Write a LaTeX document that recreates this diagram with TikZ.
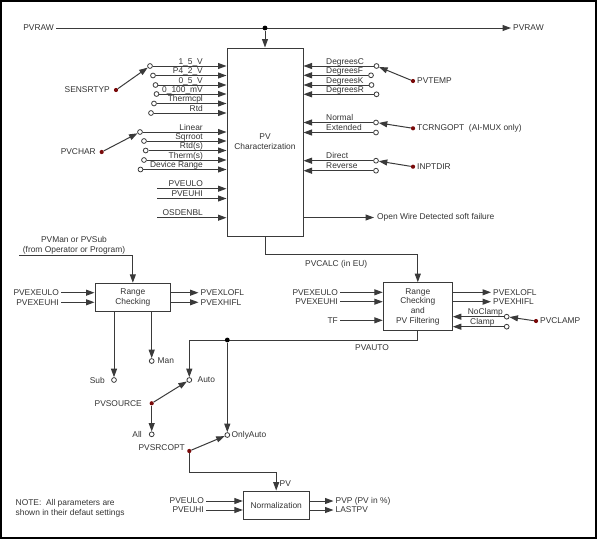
\documentclass[tikz,border=0pt]{standalone}
\usepackage{fontspec}
\setmainfont{Liberation Sans}
\usetikzlibrary{arrows.meta,calc}
\definecolor{lc}{HTML}{3A3A3A}
\definecolor{tc}{HTML}{333333}
\definecolor{dr}{HTML}{7A0A0A}
\begin{document}
\begin{tikzpicture}[x=1pt,y=-1pt,
 wire/.style={draw=lc,line width=1pt},
 arr/.style={wire,-{Triangle[length=8.5pt,width=6pt]}},
 sw/.style={circle,draw=lc,line width=0.8pt,fill=white,inner sep=0pt,minimum size=4.8pt},
 sd/.style={circle,fill=dr,inner sep=0pt,minimum size=4.2pt},
 jd/.style={circle,fill=black,inner sep=0pt,minimum size=4.8pt},
 lbl/.style={font=\fontsize{8.4}{9.8}\selectfont,text=tc,inner sep=1pt},
 box/.style={draw=lc,line width=1pt,fill=white,align=center,font=\fontsize{8.4}{9.8}\selectfont,text=tc,inner sep=0pt}]
\useasboundingbox (0,0) rectangle (600,541);
\draw[black,line width=1.2pt] (1,1) rectangle (596,538);

% PV characterization box
\node[box,minimum width=76pt,minimum height=188pt] (pvc) at (265,142) {PV\\Characterization};

% PVRAW
\node[lbl,anchor=east,inner sep=2pt] (rawL) at (56,28) {PVRAW};
\node[lbl,anchor=west,inner sep=2pt] (rawR) at (511,28) {PVRAW};
\draw[arr] (rawL) -- (rawR);
\node[jd] (j1) at (265,28) {};
\draw[arr] (j1) -- (pvc.north);

% SENSRTYP switch
\foreach \nm/\cx/\yy/\lab in {a1/150/66/1\_5\_V, a2/153/75.5/P4\_2\_V, a3/155.5/85/0\_5\_V, a4/156.5/94/0\_100\_mV, a5/154/103.5/Thermcpl, a6/151/113/Rtd} {
  \node[sw] (\nm) at (\cx,\yy) {};
  \draw[arr] (\nm) -- (\nm -| pvc.west);
  \node[lbl,anchor=base east] (\nm t) at (204,\yy-2) {\lab};
}
\node[sd] (sens) at (116,90) {};
\node[lbl,anchor=east] (sensl) at (111,90) {SENSRTYP};
\draw[arr] (sens) -- (a1);

% PVCHAR switch
\foreach \nm/\cx/\yy/\lab in {b1/140/132/Linear, b2/144/141/Sqrroot, b3/145.7/150.5/Rtd(s), b4/144/160/Therm(s), b5/140.5/169.5/Device Range} {
  \node[sw] (\nm) at (\cx,\yy) {};
  \draw[arr] (\nm) -- (\nm -| pvc.west);
  \node[lbl,anchor=base east] (\nm t) at (204,\yy-2) {\lab};
}
\node[sd] (pvch) at (101.7,152) {};
\node[lbl,anchor=east] (pvchl) at (97,152) {PVCHAR};
\draw[arr] (pvch) -- (b1);

% plain inputs
\foreach \nm/\yy/\lab in {e1/188.7/PVEULO, e2/198.5/PVEUHI, e3/217.7/OSDENBL} {
  \coordinate (\nm) at (157,\yy);
  \draw[arr] (\nm) -- (\nm -| pvc.west);
  \node[lbl,anchor=base east] (\nm t) at (204,\yy-1.8) {\lab};
}

% right side switches
\foreach \nm/\cx/\yy/\lab in {d1/376.5/66/DegreesC, d2/371/75.3/DegreesF, d3/371.5/85/DegreesK, d4/376.5/94.3/DegreesR, n1/376/122.5/Normal, n2/376/132.5/Extended, r1/376/160.7/Direct, r2/376/170.7/Reverse} {
  \node[sw] (\nm) at (\cx,\yy) {};
  \draw[arr] (\nm) -- (\nm -| pvc.east);
  \node[lbl,anchor=base west] (\nm t) at (325,\yy-2) {\lab};
}
\node[sd] (ptemp) at (413,81) {};
\node[lbl,anchor=west] (ptempl) at (416,81) {PVTEMP};
\draw[arr] (ptemp) -- (d1);
\node[sd] (tcr) at (413,128.3) {};
\node[lbl,anchor=west] (tcrl) at (416,128.3) {TCRNGOPT\ \ (AI-MUX only)};
\draw[arr] (tcr) -- (n1);
\node[sd] (idir) at (413,166.7) {};
\node[lbl,anchor=west] (idirl) at (416,166.7) {INPTDIR};
\draw[arr] (idir) -- (r1);

% open wire
\node[lbl,anchor=west,inner sep=3pt] (ow) at (374,217.5) {Open Wire Detected soft failure};
\draw[arr] (pvc.east |- ow) -- (ow);

% Range checking and PV filtering
\node[box,minimum width=69pt,minimum height=48pt] (rcf) at (417.8,306.7) {Range\\Checking\\and\\PV Filtering};
\draw[arr] (pvc.south) -- ++(0,18) -| (rcf.north);
\node[lbl,anchor=west] (pvcalc) at (304,264.3) {PVCALC (in EU)};
\foreach \nm/\yy/\lab in {ri1/292.3/PVEXEULO, ri2/301.7/PVEXEUHI, ri3/320.3/TF} {
  \node[lbl,anchor=east,inner sep=2pt] (\nm) at (340,\yy) {\lab};
  \draw[arr] (\nm) -- (\nm -| rcf.west);
}
\foreach \nm/\yy/\lab in {ro1/292.3/PVEXLOFL, ro2/301.7/PVEXHIFL} {
  \node[lbl,anchor=west,inner sep=2pt] (\nm) at (491,\yy) {\lab};
  \draw[arr] (\nm -| rcf.east) -- (\nm);
}
\foreach \nm/\yy in {c1/316.7, c2/326.7} {
  \node[sw] (\nm) at (506.7,\yy) {};
  \draw[arr] (\nm) -- (\nm -| rcf.east);
}
\node[lbl,anchor=base west] (c1t) at (466.7,314.7) {NoClamp};
\node[lbl,anchor=base west] (c2t) at (469,324.7) {Clamp};
\node[sd] (pcl) at (536,321) {};
\node[lbl,anchor=west] (pcll) at (539,321) {PVCLAMP};
\draw[arr] (pcl) -- (c1);

% PVAUTO
\node[sw] (auto) at (189.3,380) {};
\draw[arr] (rcf.south) -- ++(0,9.3) -| (auto);
\node[jd] (j2) at (227.3,340) {};
\node[sw] (oa) at (227.3,435) {};
\draw[arr] (j2) -- (oa);
\node[lbl,anchor=west] (pvautol) at (354,347.7) {PVAUTO};

% left range checking
\node[box,minimum width=75.7pt,minimum height=28.4pt] (rc) at (132.85,297.5) {Range\\Checking};
\node[lbl,align=center] (pvm) at (74,245.5) {PVMan or PVSub\\(from Operator or Program)};
\coordinate (pms) at (19,255);
\draw[arr] (pms) -| (rc.north);
\foreach \nm/\yy/\lab in {li1/292.7/PVEXEULO, li2/302.3/PVEXEUHI} {
  \node[lbl,anchor=east,inner sep=2pt] (\nm) at (61,\yy) {\lab};
  \draw[arr] (\nm) -- (\nm -| rc.west);
}
\foreach \nm/\yy/\lab in {lo1/292.7/PVEXLOFL, lo2/302.3/PVEXHIFL} {
  \node[lbl,anchor=west,inner sep=2pt] (\nm) at (198.5,\yy) {\lab};
  \draw[arr] (\nm -| rc.east) -- (\nm);
}
\node[sw] (sub) at (114,380) {};
\draw[arr] (rc.south -| sub) -- (sub);
\node[sw] (man) at (151.7,361) {};
\draw[arr] (rc.south -| man) -- (man);
\node[lbl,anchor=east] (subl) at (106,380) {Sub};
\node[lbl,anchor=west] (manl) at (156.5,361) {Man};
\node[lbl,anchor=west] (autol) at (196.5,380) {Auto};
\node[lbl,anchor=west] (oal) at (230.5,435) {OnlyAuto};

% PVSOURCE
\node[sd] (pso) at (151.7,403.3) {};
\node[lbl,anchor=east] (psol) at (143,403.3) {PVSOURCE};
\node[sw] (all) at (151.7,434.3) {};
\node[lbl,anchor=east] (alll) at (143,434.3) {All};
\draw[arr] (pso) -- (auto);
\draw[arr] (pso) -- (all);

% PVSRCOPT
\node[sd] (psr) at (189.3,451) {};
\node[lbl,anchor=east] (psrl) at (186,448) {PVSRCOPT};
\draw[arr] (psr) -- (oa);

% Normalization
\node[box,minimum width=65.7pt,minimum height=28.3pt] (norm) at (276.2,505.2) {Normalization};
\draw[arr] (psr) -- ++(0,21.3) -| (norm.north);
\node[lbl,anchor=west] (pvl) at (278.5,483.3) {PV};
\foreach \nm/\yy/\lab in {ni1/501/PVEULO, ni2/510/PVEUHI} {
  \node[lbl,anchor=east,inner sep=2pt] (\nm) at (206,\yy) {\lab};
  \draw[arr] (\nm) -- (\nm -| norm.west);
}
\foreach \nm/\yy/\lab in {no1/501/PVP (PV in \%), no2/510/LASTPV} {
  \node[lbl,anchor=west,inner sep=2pt] (\nm) at (333.5,\yy) {\lab};
  \draw[arr] (\nm -| norm.east) -- (\nm);
}

% note
\node[lbl,align=left,anchor=west] (note) at (14.5,508) {NOTE:\ \ All parameters are\\shown in their defaut settings};
\end{tikzpicture}
\end{document}
